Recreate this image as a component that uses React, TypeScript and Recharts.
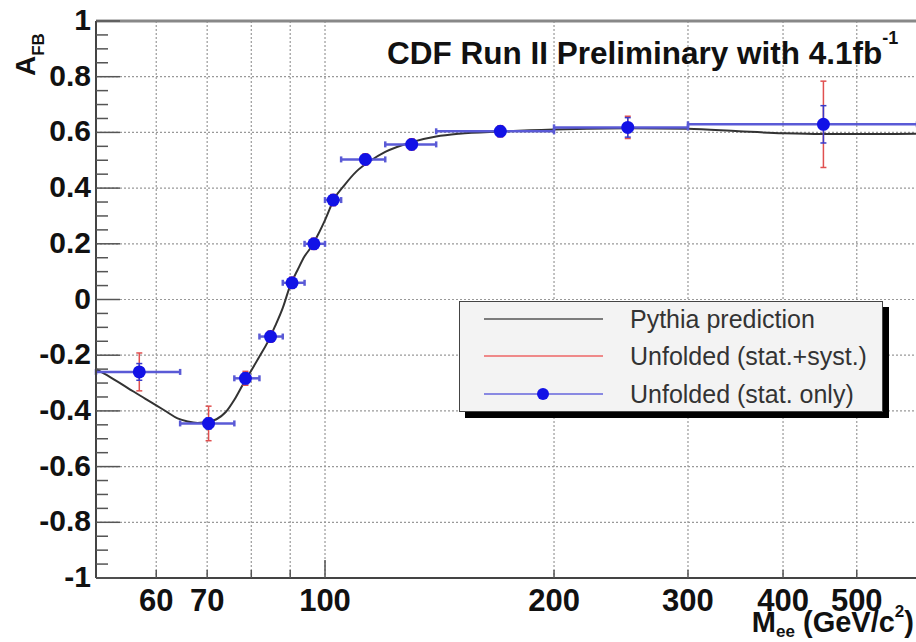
import React from 'react';
import {
  ComposedChart, Line, Scatter, ErrorBar, XAxis, YAxis, CartesianGrid,
  ReferenceLine, Legend, Customized,
} from 'recharts';

// Pythia prediction curve (M_ee in GeV/c^2, A_FB)
const pythiaMass = [50, 52, 55, 58, 60, 62, 64, 66, 68, 70, 72, 74, 76, 78, 80, 82, 84, 86, 88, 90, 92, 94, 96, 98, 100, 103, 106, 110, 115, 120, 130, 140, 150, 170, 200, 250, 300, 350, 400, 450, 500, 600];
const pythiaAfb = [-0.25, -0.276, -0.317, -0.356, -0.38, -0.404, -0.427, -0.438, -0.443, -0.44, -0.43, -0.405, -0.36, -0.305, -0.255, -0.205, -0.155, -0.095, -0.03, 0.05, 0.105, 0.155, 0.19, 0.235, 0.285, 0.365, 0.41, 0.46, 0.5, 0.53, 0.565, 0.585, 0.595, 0.603, 0.61, 0.615, 0.613, 0.604, 0.597, 0.594, 0.594, 0.595];

// Unfolded measurement
const binCenter = [57, 70.3, 78.6, 84.8, 90.5, 96.7, 102.5, 113, 130, 170, 250, 452];
const binLow = [50, 64.5, 76, 82, 88, 94, 100, 105, 120, 140, 200, 300];
const binHigh = [64.5, 76, 82, 88, 94, 100, 105, 120, 140, 200, 300, 600];
const afbMeasured = [-0.26, -0.445, -0.283, -0.133, 0.06, 0.2, 0.357, 0.503, 0.557, 0.604, 0.618, 0.629];
const statErr = [0.03, 0.02, 0.02, 0.015, 0.015, 0.015, 0.015, 0.015, 0.015, 0.015, 0.035, 0.067];
const totErr = [0.068, 0.062, 0.025, 0.02, 0.02, 0.02, 0.02, 0.02, 0.02, 0.02, 0.04, 0.155];

// Axis ticks
const xTicks = [60, 70, 80, 90, 100, 200, 300, 400, 500];
const xTickLabels = ['60', '70', '', '', '100', '200', '300', '400', '500'];
const yMajor = [-1, -0.8, -0.6, -0.4, -0.2, 0, 0.2, 0.4, 0.6, 0.8, 1];
const yMajorLabels = ['-1', '-0.8', '-0.6', '-0.4', '-0.2', '0', '0.2', '0.4', '0.6', '0.8', '1'];

const yAllTicks: number[] = [];
for (let i = 0; i < yMajor.length - 1; i++) {
  const a = yMajor[i];
  const b = yMajor[i + 1];
  for (let k = 0; k < 4; k++) yAllTicks.push(+(a + ((b - a) * k) / 4).toFixed(3));
}
yAllTicks.push(yMajor[yMajor.length - 1]);

const pythia = pythiaMass.map((m, i) => ({ m, a: pythiaAfb[i] }));
const points = binCenter.map((m, i) => ({
  m,
  a: afbMeasured[i],
  ex: [m - binLow[i], binHigh[i] - m],
  eTot: totErr[i],
  eStat: statErr[i],
}));

const BOLD = '"Liberation Sans", Arial, Helvetica, sans-serif';

const YTick = (props: any) => {
  const { x, y, payload } = props;
  const v = payload.value;
  const idx = yMajor.findIndex((t) => Math.abs(t - v) < 1e-6);
  const major = idx >= 0;
  return (
    <g>
      <line x1={x} x2={x + (major ? 24 : 12)} y1={y} y2={y} stroke="#555" strokeWidth={1.5} />
      {major && (
        <text x={x - 5} y={y + 9} textAnchor="end" fontFamily={BOLD} fontWeight="bold" fontSize={30} fill="#111">
          {yMajorLabels[idx]}
        </text>
      )}
    </g>
  );
};

const XTick = (props: any) => {
  const { x, y, payload } = props;
  const v = payload.value;
  const idx = xTicks.indexOf(v);
  const len = v === 100 ? 18 : 8;
  return (
    <g>
      <line x1={x} x2={x} y1={y} y2={y - len} stroke="#555" strokeWidth={1.5} />
      {idx >= 0 && xTickLabels[idx] !== '' && (
        <text x={x} y={y + 33} textAnchor="middle" fontFamily={BOLD} fontWeight="bold" fontSize={31} fill="#111">
          {xTickLabels[idx]}
        </text>
      )}
    </g>
  );
};

const DataDot = (p: any) => <circle cx={p.cx} cy={p.cy} r={6.5} fill="#1212e6" />;

const Annotations = () => (
  <g>
    <text x={387} y={64} fontFamily={BOLD} fontWeight="bold" fontSize={31.5} fill="#111">
      CDF Run II Preliminary with 4.1fb
      <tspan fontSize={18} dy={-20}>-1</tspan>
    </text>
    <text transform="translate(35,76) rotate(-90)" fontFamily={BOLD} fontWeight="bold" fontSize={28} fill="#111">
      A<tspan fontSize={17} dy={9}>FB</tspan>
    </text>
    <text x={914} y={632} textAnchor="end" fontFamily={BOLD} fontWeight="bold" fontSize={29} fill="#111">
      M<tspan fontSize={17} dy={5}>ee</tspan>
      <tspan dy={-5}> (GeV/c</tspan>
      <tspan fontSize={17} dy={-15}>2</tspan>
      <tspan dy={15}>)</tspan>
    </text>
  </g>
);

const LegendBox = () => (
  <div
    style={{
      width: 424,
      height: 111,
      boxSizing: 'border-box',
      background: '#f3f3f3',
      border: '1px solid #444',
      boxShadow: '6px 6px 0 #000',
      position: 'relative',
    }}
  >
    <svg width={424} height={111} style={{ position: 'absolute', left: 0, top: 0 }}>
      <line x1={24} x2={143} y1={17} y2={17} stroke="#555" strokeWidth={1.5} />
      <line x1={24} x2={143} y1={54} y2={54} stroke="#e66" strokeWidth={1.5} />
      <line x1={24} x2={143} y1={92} y2={92} stroke="#66d" strokeWidth={1.5} />
      <circle cx={83} cy={92} r={6} fill="#1212e6" />
      <text x={170} y={26} fontFamily='"Liberation Sans", Arial, sans-serif' fontSize={25} fill="#333">Pythia prediction</text>
      <text x={170} y={63} fontFamily='"Liberation Sans", Arial, sans-serif' fontSize={25} fill="#333">Unfolded (stat.+syst.)</text>
      <text x={170} y={101} fontFamily='"Liberation Sans", Arial, sans-serif' fontSize={25} fill="#333">Unfolded (stat. only)</text>
    </svg>
  </div>
);

export default function App() {
  return (
    <div style={{ position: 'absolute', left: 0, top: 0, width: 916, height: 642, overflow: 'hidden', background: '#fff' }}>
      <ComposedChart width={920} height={642} margin={{ top: 21, right: 3, left: 36, bottom: 24 }}>
        <CartesianGrid
          horizontalValues={yMajor}
          verticalValues={xTicks}
          stroke="#999"
          strokeDasharray="2 2"
          strokeWidth={1.2}
        />
        <XAxis
          dataKey="m"
          type="number"
          scale="log"
          domain={[50, 600]}
          allowDataOverflow
          ticks={xTicks}
          interval={0}
          height={40}
          tickSize={0}
          tickMargin={0}
          tickLine={false}
          tick={<XTick />}
          axisLine={{ stroke: '#444', strokeWidth: 2 }}
        />
        <YAxis
          dataKey="a"
          type="number"
          domain={[-1, 1]}
          allowDataOverflow
          ticks={yAllTicks}
          interval={0}
          width={60}
          tickSize={0}
          tickMargin={0}
          tickLine={false}
          tick={<YTick />}
          axisLine={{ stroke: '#444', strokeWidth: 2 }}
        />
        <ReferenceLine y={1} stroke="#888" strokeWidth={3} />
        <Line
          data={pythia}
          dataKey="a"
          type="monotone"
          stroke="#333"
          strokeWidth={2}
          dot={false}
          isAnimationActive={false}
        />
        <Scatter data={points} dataKey="a" isAnimationActive={false} shape={DataDot}>
          <ErrorBar dataKey="ex" direction="x" width={3} stroke="#5a5ad6" strokeWidth={2.5} />
          <ErrorBar dataKey="eTot" direction="y" width={3} stroke="#e05050" strokeWidth={1.5} />
          <ErrorBar dataKey="eStat" direction="y" width={3} stroke="#3a3ac8" strokeWidth={1.5} />
        </Scatter>
        <Legend
          layout="vertical"
          align="center"
          verticalAlign="middle"
          wrapperStyle={{ left: 459, top: 301, width: 424, height: 111 }}
          content={() => <LegendBox />}
        />
        <Customized component={Annotations} />
      </ComposedChart>
    </div>
  );
}
